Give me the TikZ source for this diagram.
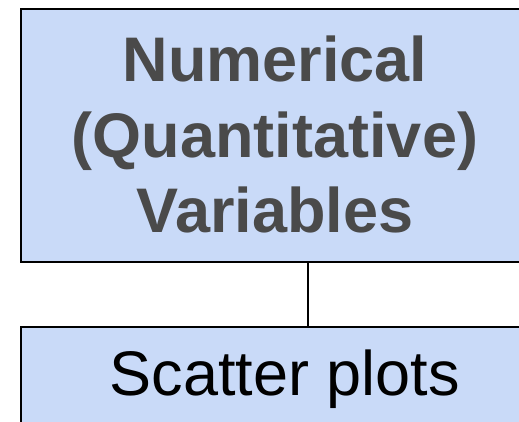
\documentclass[tikz,border=0pt]{standalone}
\usepackage{fontspec}
\setmainfont{Liberation Sans}
\definecolor{boxfill}{HTML}{C9DAF8}
\definecolor{titlegray}{HTML}{4A4A4A}
\begin{document}
\begin{tikzpicture}[x=1pt,y=-1pt,
  boxshape/.style={draw=black, line width=2pt, fill=boxfill, rectangle, inner sep=0pt, anchor=north west},
  titletext/.style={align=center, text=titlegray, font=\fontsize{63}{75.5}\selectfont\bfseries, inner sep=0pt},
  plaintext/.style={text=black, font=\fontsize{63}{70}\selectfont, inner sep=0pt, anchor=base},
  link/.style={draw=black, line width=1.5pt}]
\useasboundingbox (0,0) rectangle (519,422);
\clip (0,0) rectangle (519,422);
\node[boxshape, minimum width=512pt, minimum height=253pt] (top) at (20,8) {};
\node[boxshape, minimum width=512pt, minimum height=150pt] (bot) at (20,326) {};
\node[titletext, anchor=base] (title) at (275,233) {Numerical\\(Quantitative)\\Variables};
\node[plaintext] (scatter) at (285,395) {Scatter plots};
\coordinate (linkx) at (308,0);
\draw[link] (top.south -| linkx) -- (bot.north -| linkx);
\end{tikzpicture}
\end{document}
